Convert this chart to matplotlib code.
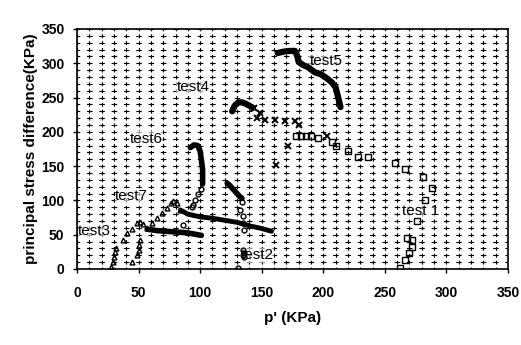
import matplotlib
matplotlib.use("Agg")
import matplotlib.pyplot as plt
import numpy as np

plt.rcParams['font.family'] = ['Liberation Sans', 'DejaVu Sans']
plt.rcParams['lines.scale_dashes'] = False

# test 1 : hollow squares
t1_x = [178, 182, 186, 190, 196, 207, 210, 220, 228, 236, 258, 266, 281, 288, 283, 276, 268, 272, 272, 270, 266, 262]
t1_y = [194, 194, 194, 194, 191, 185, 179, 172, 163, 163, 155, 146, 134, 118, 101, 70, 45, 42, 32, 23, 13, 1]

# test 2 : dense wedge + circles
t2_dense_x = [122, 124, 126, 128, 130, 132, 134]
t2_dense_y = [125, 122, 118, 114, 110, 106, 103]
t2_x = [134, 132, 135, 135, 136, 135, 136, 135, 136, 131]
t2_y = [98, 86, 77, 67, 57, 28, 24, 20, 17, 1]

# test 3 : triangles + dense line
t3_x = [28, 29, 30, 31, 32, 37, 41, 45, 49, 51, 54, 57]
t3_y = [3, 10, 18, 25, 30, 42, 52, 58, 67, 69, 66, 60]
t3_dense_x = [57, 65, 72, 80, 88, 95, 101]
t3_dense_y = [58, 56, 55, 54, 53, 51, 49]

# test 4 : dense blob + asterisks
t4_dense_x = [126, 128, 131, 134, 137, 140, 143]
t4_dense_y = [230, 238, 243, 243, 241, 238, 235]
t4_x = [144, 149, 146, 153, 161, 169, 177, 180, 203, 171, 162]
t4_y = [235, 228, 220, 218, 218, 216, 216, 210, 194, 180, 152]

# test 5 : dense line
t5_x = [163, 168, 173, 177, 179, 180, 184, 187, 193, 198, 203, 207, 210, 212, 214]
t5_y = [315, 317, 318, 318, 310, 302, 297, 295, 287, 284, 278, 272, 265, 251, 236]

# test 6 : dense line + circles
t6_dense_x = [92, 95, 98, 100, 101, 102, 102, 102]
t6_dense_y = [177, 181, 180, 172, 159, 145, 132, 124]
t6_x = [101, 98, 96, 94, 93, 86]
t6_y = [116, 110, 100, 94, 90, 64]

# test 7 : triangles + dense line
t7_x = [45, 49, 50, 50, 51, 61, 65, 69, 73, 76, 78, 81, 84]
t7_y = [10, 20, 28, 35, 42, 67, 74, 81, 89, 96, 99, 96, 86]
t7_dense_x = [84, 90, 100, 110, 120, 130, 140, 150, 158]
t7_dense_y = [86, 80, 76, 74, 71, 68, 63, 59, 55]

labels = ["test5", "test4", "test6", "test7", "test3", "test2", "test 1"]
label_x = [189, 81, 43, 31, 1, 133, 264]
label_y = [303, 265, 190, 107, 56, 20, 84]

fig = plt.figure(figsize=(5.21, 3.45), dpi=100)
ax = fig.add_axes([0.1478, 0.2203, 0.8272, 0.6957])

ax.set_xlim(0, 350)
ax.set_ylim(0, 350)
ax.set_xticks(np.arange(0, 351, 50))
ax.set_yticks(np.arange(0, 351, 50))
ax.set_xticks(np.arange(0, 351, 10), minor=True)
ax.set_yticks(np.arange(0, 351, 10), minor=True)
ax.tick_params(which='minor', length=0)
ax.tick_params(which='major', length=3, width=1, direction='out')
ax.tick_params(axis='x', pad=9)
ax.tick_params(axis='y', pad=6)
for lab in ax.get_xticklabels() + ax.get_yticklabels():
    lab.set_fontsize(10)
    lab.set_fontweight('bold')

# dashed grid giving '+' marks at intersections
ax.grid(axis='x', which='both', color='black', lw=0.8, linestyle=(1.4, (2.8, 2.14)))
ax.grid(axis='y', which='both', color='black', lw=0.8, linestyle=(2.0, (4.0, 4.86)))
ax.set_axisbelow(True)
for s in ax.spines.values():
    s.set_linewidth(1.2)

mk = dict(color='black', markerfacecolor='none', markeredgewidth=1.0, linestyle='none')
ax.plot(t1_x, t1_y, marker='s', markersize=4.5, **mk)

ax.plot(t2_dense_x, t2_dense_y, color='black', lw=4, solid_capstyle='round')
ax.plot(t2_x, t2_y, marker='o', markersize=3.5, **mk)

ax.plot(t3_x, t3_y, marker='^', markersize=3.5, **mk)
ax.plot(t3_dense_x, t3_dense_y, color='black', lw=4, solid_capstyle='round')

ax.plot(t4_dense_x, t4_dense_y, color='black', lw=4.5, solid_capstyle='round')
ax.plot(t4_x, t4_y, marker='x', markersize=4, color='black', markeredgewidth=1.4, linestyle='none')

ax.plot(t5_x, t5_y, color='black', lw=4.5, solid_capstyle='round')

ax.plot(t6_dense_x, t6_dense_y, color='black', lw=4, solid_capstyle='round')
ax.plot(t6_x, t6_y, marker='o', markersize=3.5, **mk)

ax.plot(t7_x, t7_y, marker='^', markersize=3.5, **mk)
ax.plot(t7_dense_x, t7_dense_y, color='black', lw=3.5, solid_capstyle='round')

for t, x, y in zip(labels, label_x, label_y):
    ax.text(x, y, t, fontsize=11, va='center', ha='left', zorder=1.5,
            bbox=dict(facecolor='white', edgecolor='none', pad=0.3, alpha=0.6))

ax.set_xlabel("p' (KPa)", fontsize=11, fontweight='bold', labelpad=8)
ax.set_ylabel("principal stress difference(KPa)", fontsize=11, fontweight='bold', labelpad=2)

fig.savefig("out.png", dpi=100)
